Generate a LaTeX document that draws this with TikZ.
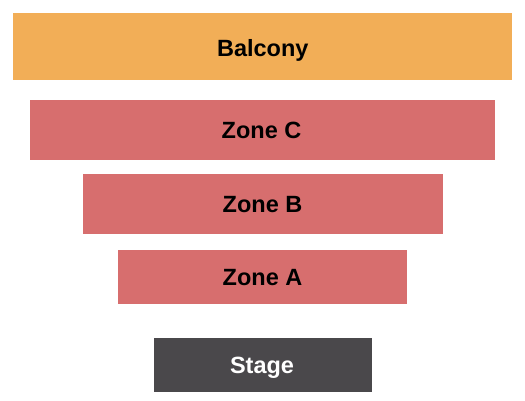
\documentclass[tikz,border=0pt]{standalone}
\usepackage{fontspec}
\setmainfont{Liberation Sans}
\begin{document}
\begin{tikzpicture}[x=1pt,y=-1pt,
  lbl/.style={font=\fontsize{23.5}{28}\selectfont\bfseries,inner sep=0pt,anchor=base}]
\definecolor{balc}{HTML}{F2AE57}
\definecolor{zonered}{HTML}{D76E6E}
\definecolor{stagegray}{HTML}{4A484B}
\useasboundingbox (0,0) rectangle (525,400);
\fill[white] (0,0) rectangle (525,400);
\fill[balc] (13,13) rectangle (512,80);
\node[lbl] (balcony) at (262.8,56.2) {Balcony};
\fill[zonered] (30,100) rectangle (495,160);
\node[lbl] (zonec) at (261.5,138.3) {Zone C};
\fill[zonered] (83,174) rectangle (442.5,233.5);
\node[lbl] (zoneb) at (262.5,212.5) {Zone B};
\fill[zonered] (118,250) rectangle (407,303.5);
\node[lbl] (zonea) at (262.5,285.5) {Zone A};
\fill[stagegray] (154,338) rectangle (372,391.5);
\node[lbl,text=white] (stage) at (262,373.3) {Stage};
\end{tikzpicture}
\end{document}
